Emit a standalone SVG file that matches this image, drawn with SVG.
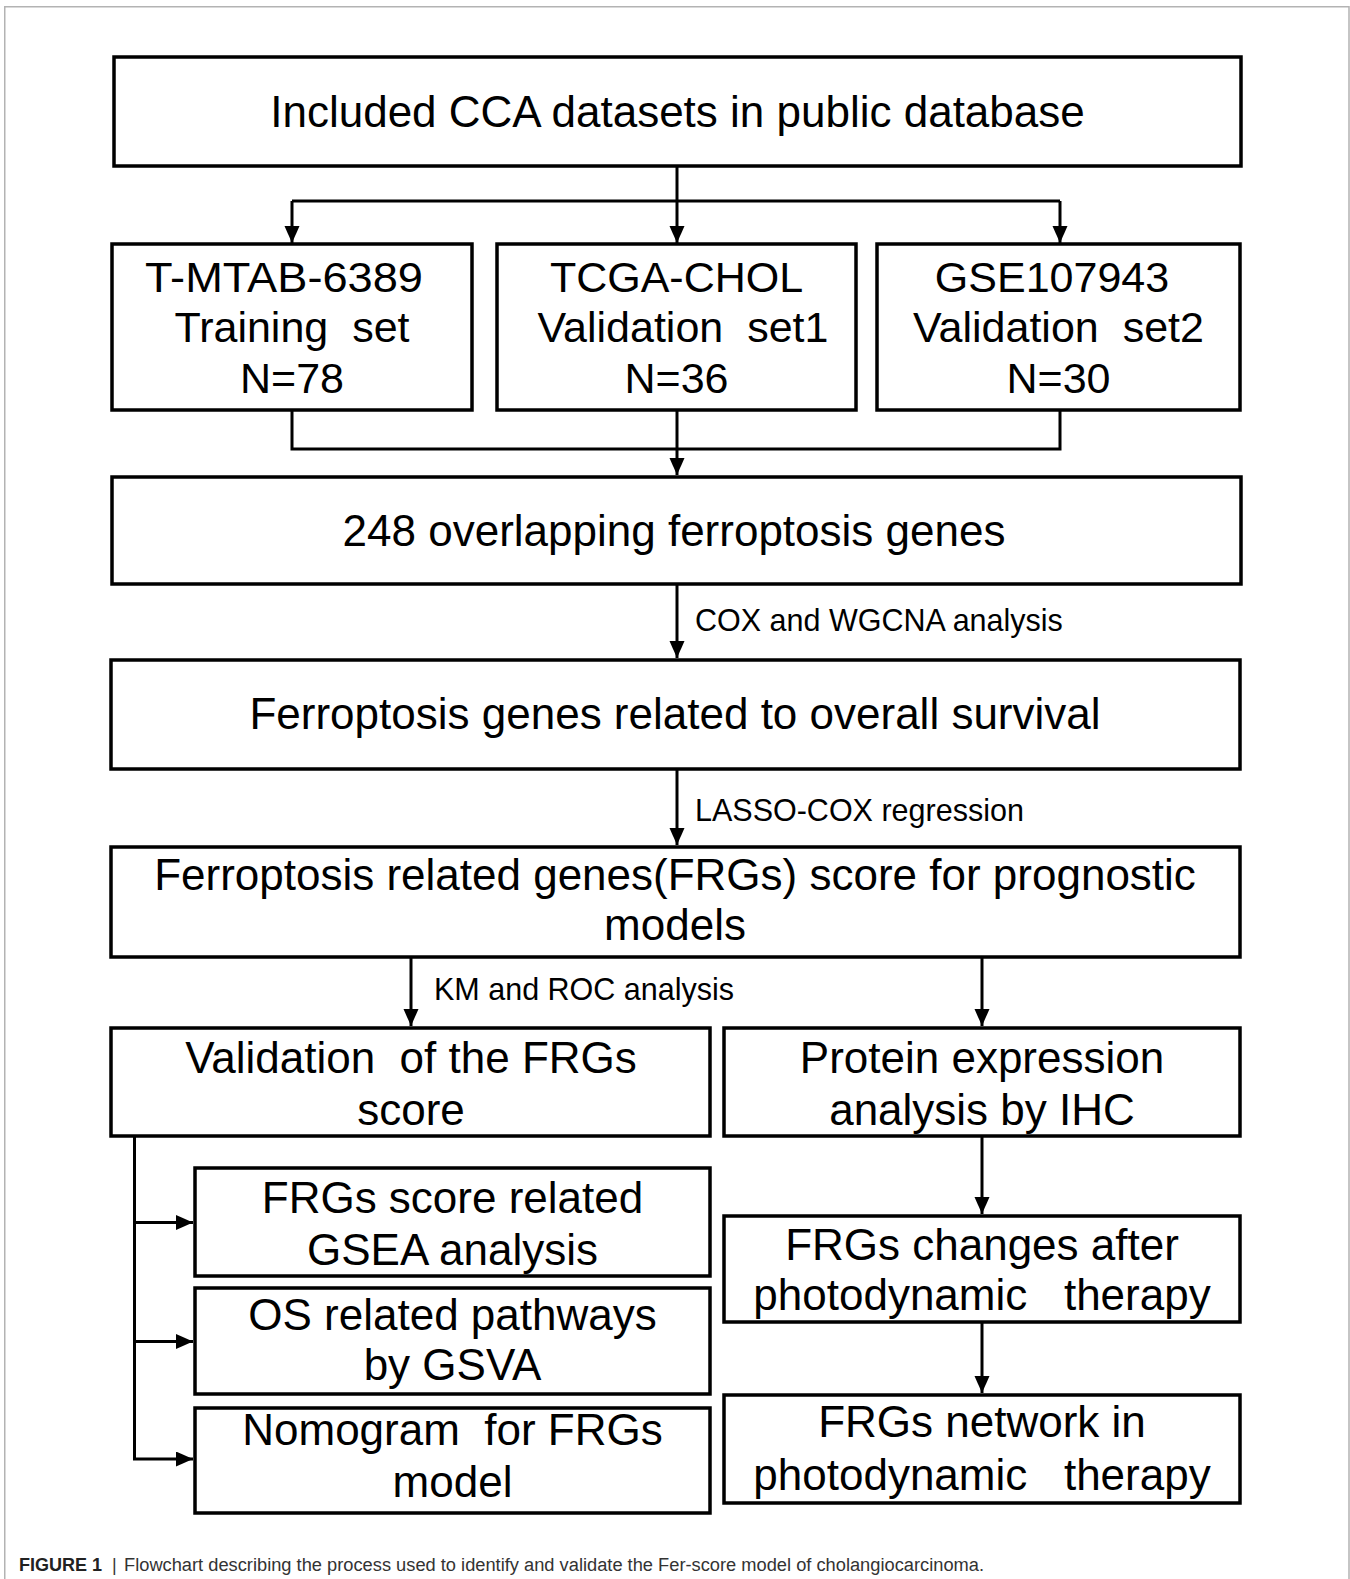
<svg xmlns="http://www.w3.org/2000/svg" width="1350" height="1579" viewBox="0 0 1350 1579">
<style>
.box{fill:#fff;stroke:#000;stroke-width:3.5}
.t{font-family:"Liberation Sans",Arial,sans-serif;font-size:44px;text-anchor:middle;fill:#000}
.m{font-size:43px}
.lbl{font-family:"Liberation Sans",Arial,sans-serif;font-size:30.5px;fill:#000}
.conn{stroke:#000;stroke-width:3;fill:none}
.frame{stroke:#b3b3b3;stroke-width:1.5;fill:none}
.cap{font-family:"Liberation Sans",Arial,sans-serif;font-size:18px;fill:#333}
</style>
<defs>
<marker id="arr" markerUnits="userSpaceOnUse" markerWidth="18" markerHeight="16" refX="17" refY="7.5" orient="auto">
<path d="M0,0 L17,7.5 L0,15 z" fill="#000"/>
</marker>
</defs>
<path class="frame" d="M4.75,1579 V6.75 H1349 V1579"/>
<g id="connectors">
<path class="conn" d="M677,166 V243" marker-end="url(#arr)"/>
<path class="conn" d="M292,201 H1060"/>
<path class="conn" d="M292,201 V243" marker-end="url(#arr)"/>
<path class="conn" d="M1060,201 V243" marker-end="url(#arr)"/>
<path class="conn" d="M292,410 V449 H1060 V410"/>
<path class="conn" d="M677,410 V475" marker-end="url(#arr)"/>
<path class="conn" d="M677,584 V658" marker-end="url(#arr)"/>
<path class="conn" d="M677,769 V845" marker-end="url(#arr)"/>
<path class="conn" d="M411,957 V1026" marker-end="url(#arr)"/>
<path class="conn" d="M982,957 V1026" marker-end="url(#arr)"/>
<path class="conn" d="M134.5,1136 V1459"/>
<path class="conn" d="M133,1222.5 H193" marker-end="url(#arr)"/>
<path class="conn" d="M133,1341.5 H193" marker-end="url(#arr)"/>
<path class="conn" d="M133,1459 H193" marker-end="url(#arr)"/>
<path class="conn" d="M982,1137 V1214" marker-end="url(#arr)"/>
<path class="conn" d="M982,1322 V1393" marker-end="url(#arr)"/>
<text class="lbl" x="695" y="631">COX and WGCNA analysis</text>
<text class="lbl" x="695" y="821">LASSO-COX regression</text>
<text class="lbl" x="434" y="1000">KM and ROC analysis</text>
</g>
<g id="n1"><rect class="box" x="114" y="57" width="1127" height="109"/><text class="t" x="677.5" y="127">Included CCA datasets in public database</text></g>
<g id="n2"><rect class="box" x="112" y="244" width="360" height="166"/><text class="t m" x="284" y="292" textLength="278" lengthAdjust="spacingAndGlyphs">T-MTAB-6389</text><text class="t m" x="292" y="342" xml:space="preserve">Training  set</text><text class="t m" x="292" y="393">N=78</text></g>
<g id="n3"><rect class="box" x="497" y="244" width="359" height="166"/><text class="t m" x="676.5" y="292">TCGA-CHOL</text><text class="t m" x="683" y="342" xml:space="preserve">Validation  set1</text><text class="t m" x="676.5" y="393">N=36</text></g>
<g id="n4"><rect class="box" x="877" y="244" width="363" height="166"/><text class="t m" x="1052" y="292">GSE107943</text><text class="t m" x="1058.5" y="342" xml:space="preserve">Validation  set2</text><text class="t m" x="1058.5" y="393">N=30</text></g>
<g id="n5"><rect class="box" x="112" y="477" width="1129" height="107"/><text class="t" x="674" y="546">248 overlapping ferroptosis genes</text></g>
<g id="n6"><rect class="box" x="111" y="660" width="1129" height="109"/><text class="t" x="675" y="729">Ferroptosis genes related to overall survival</text></g>
<g id="n7"><rect class="box" x="111" y="847" width="1129" height="110"/><text class="t" x="675" y="890">Ferroptosis related genes(FRGs) score for prognostic</text><text class="t" x="675" y="940">models</text></g>
<g id="n8"><rect class="box" x="111" y="1028" width="599" height="108"/><text class="t" x="411" y="1073" xml:space="preserve">Validation  of the FRGs</text><text class="t" x="411" y="1125">score</text></g>
<g id="n9"><rect class="box" x="724" y="1028" width="516" height="108"/><text class="t" x="982" y="1073">Protein expression</text><text class="t" x="982" y="1125">analysis by IHC</text></g>
<g id="n10"><rect class="box" x="195" y="1168" width="515" height="108"/><text class="t" x="452.5" y="1213">FRGs score related</text><text class="t" x="452.5" y="1265">GSEA analysis</text></g>
<g id="n11"><rect class="box" x="195" y="1288" width="515" height="106"/><text class="t" x="452.5" y="1330">OS related pathways</text><text class="t" x="452.5" y="1380">by GSVA</text></g>
<g id="n12"><rect class="box" x="195" y="1408" width="515" height="105"/><text class="t" x="452.5" y="1445" xml:space="preserve">Nomogram  for FRGs</text><text class="t" x="452.5" y="1497">model</text></g>
<g id="n13"><rect class="box" x="724" y="1216" width="516" height="106"/><text class="t" x="982" y="1260">FRGs changes after</text><text class="t" x="982" y="1310" xml:space="preserve">photodynamic   therapy</text></g>
<g id="n14"><rect class="box" x="724" y="1395" width="516" height="108"/><text class="t" x="982" y="1437">FRGs network in</text><text class="t" x="982" y="1490" xml:space="preserve">photodynamic   therapy</text></g>
<g id="caption">
<text class="cap" x="19" y="1571"><tspan font-weight="bold" fill="#222">FIGURE 1</tspan></text>
<text class="cap" x="112" y="1571" fill="#999">|</text>
<text class="cap" x="124" y="1571" textLength="860" lengthAdjust="spacingAndGlyphs">Flowchart describing the process used to identify and validate the Fer-score model of cholangiocarcinoma.</text>
</g>
</svg>
